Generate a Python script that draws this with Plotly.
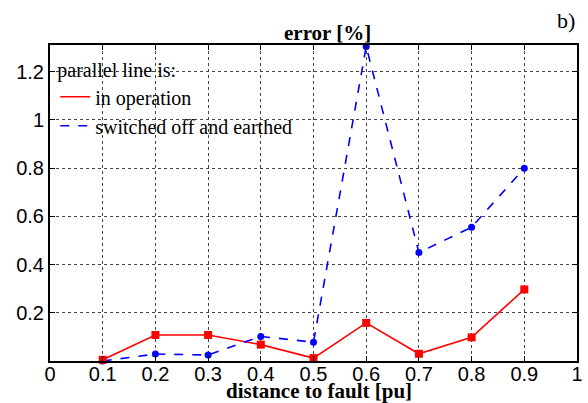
import plotly.graph_objects as go

distance = [0.1, 0.2, 0.3, 0.4, 0.5, 0.6, 0.7, 0.8, 0.9]
err_operation = [0.005, 0.108, 0.108, 0.068, 0.012, 0.158, 0.030, 0.098, 0.297]
err_earthed = [0.0, 0.029, 0.025, 0.102, 0.078, 1.305, 0.450, 0.555, 0.800]
x_ticks = [0, 0.1, 0.2, 0.3, 0.4, 0.5, 0.6, 0.7, 0.8, 0.9, 1]
x_tick_labels = ["0", "0.1", "0.2", "0.3", "0.4", "0.5", "0.6", "0.7", "0.8", "0.9", "1"]
y_ticks = [0.2, 0.4, 0.6, 0.8, 1.0, 1.2]
y_tick_labels = ["0.2", "0.4", "0.6", "0.8", "1", "1.2"]

RED = "#ff0000"
BLUE = "#0000ff"
serif = "Liberation Serif, Times New Roman, serif"
sans = "Liberation Sans, Arial, sans-serif"

fig = go.Figure()
# line traces (legend)
fig.add_trace(go.Scatter(x=distance, y=err_operation, mode="lines", name="in operation",
                         line=dict(color=RED, width=1.6), cliponaxis=False))
fig.add_trace(go.Scatter(x=distance, y=err_earthed, mode="lines", name="switched off and earthed",
                         line=dict(color=BLUE, width=1.6, dash="dash"), cliponaxis=False))
# marker traces (no legend)
fig.add_trace(go.Scatter(x=distance, y=err_earthed, mode="markers", showlegend=False,
                         marker=dict(color=BLUE, symbol="circle", size=7), cliponaxis=False))
fig.add_trace(go.Scatter(x=distance, y=err_operation, mode="markers", showlegend=False,
                         marker=dict(color=RED, symbol="square", size=8), cliponaxis=False))

axis_common = dict(showline=True, linecolor="black", linewidth=2, mirror="ticks",
                   ticks="inside", ticklen=5, tickcolor="black", tickwidth=1,
                   showgrid=True, gridcolor="#444444", griddash="dot", gridwidth=1,
                   zeroline=False, automargin=False,
                   tickfont=dict(family=sans, size=20, color="black"))

fig.update_xaxes(range=[0, 1], tickvals=x_ticks, ticktext=x_tick_labels,
                 ticklabelstandoff=-6, **axis_common)
fig.update_yaxes(range=[0, 1.311], tickvals=y_ticks, ticktext=y_tick_labels, **axis_common)

fig.update_layout(
    width=588, height=403,
    margin=dict(l=50, r=11, t=45, b=42),
    paper_bgcolor="white", plot_bgcolor="white",
    showlegend=True,
    legend=dict(x=0.01, y=0.98, xanchor="left", yanchor="top",
                bgcolor="rgba(0,0,0,0)", borderwidth=0,
                font=dict(family=serif, size=20, color="black"),
                title=dict(text="parallel line is:", font=dict(family=serif, size=20, color="black")),
                tracegroupgap=0),
    annotations=[
        dict(text="<b>error [%]</b>", x=0.527, y=1.0, xref="paper", yref="paper",
             xanchor="center", yanchor="bottom", yshift=-2, showarrow=False,
             font=dict(family=serif, size=21, color="black")),
        dict(text="<b>distance to fault [pu]</b>", x=0.51, y=0, xref="paper", yref="paper",
             xanchor="center", yanchor="top", yshift=-16, showarrow=False,
             font=dict(family=serif, size=21, color="black")),
        dict(text="b)", x=1.0, y=1.0, xref="paper", yref="paper",
             xanchor="right", yanchor="bottom", yshift=10, showarrow=False,
             font=dict(family=serif, size=22, color="black")),
    ],
)

fig.write_html("out.html", config={"displayModeBar": False},
               post_script="document.body.style.margin='0';document.body.style.overflow='hidden';")
